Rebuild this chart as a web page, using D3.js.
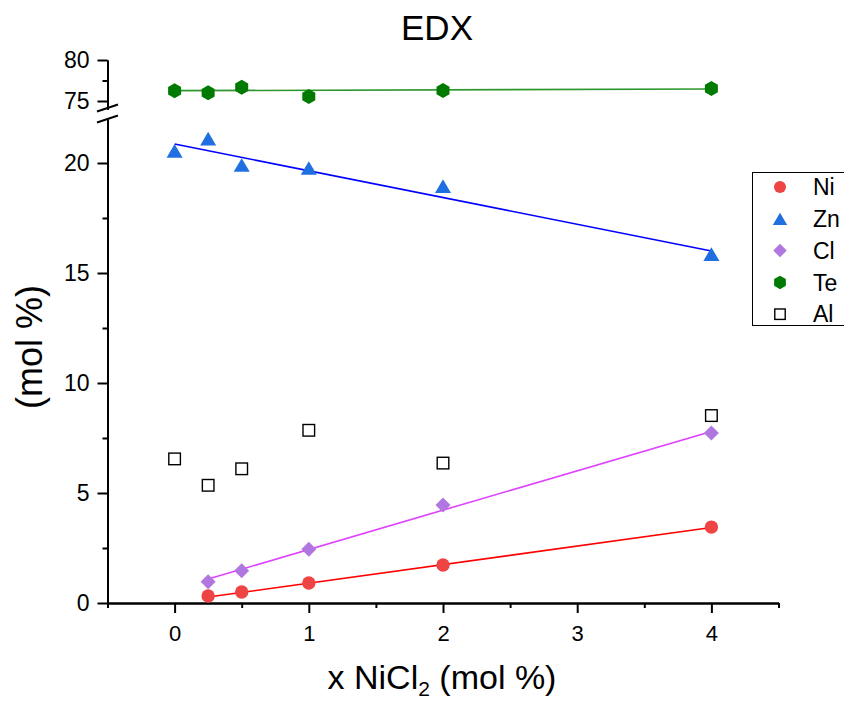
<!DOCTYPE html>
<html>
<head>
<meta charset="utf-8">
<script src="https://cdn.jsdelivr.net/npm/d3@7"></script>
<style>
  html, body { margin: 0; padding: 0; background: #fff; }
  svg { display: block; font-family: "Liberation Sans", Arial, sans-serif; }
</style>
</head>
<body>
<svg id="chart" width="844" height="702"></svg>
<script>
// ---- data ----
const niX = [0.25, 0.5, 1, 2, 4];
const niY = [0.32, 0.50, 0.91, 1.73, 3.45];
const znX = [0, 0.25, 0.5, 1, 2, 4];
const znY = [20.55, 21.11, 19.91, 19.77, 18.95, 15.86];
const clX = [0.25, 0.5, 1, 2, 4];
const clY = [0.97, 1.47, 2.44, 4.45, 7.73];
const teX = [0, 0.25, 0.5, 1, 2, 4];
const teY = [76.26, 76.01, 76.67, 75.55, 76.28, 76.52];
const alX = [0, 0.25, 0.5, 1, 2, 4];
const alY = [6.55, 5.35, 6.10, 7.85, 6.36, 8.52];
// linear-fit lines (endpoints)
const niFit = [[0.25, 0.27], [4, 3.43]];
const znFit = [[0, 20.86], [4, 16.0]];
const clFit = [[0.25, 1.09], [4, 7.80]];
const teFit = [[0, 76.26], [4, 76.46]];
const xTicks = [0, 1, 2, 3, 4];
const xMinor = [-0.5, 0.5, 1.5, 2.5, 3.5, 4.5];
const yBotTicks = [0, 5, 10, 15, 20];
const yBotMinor = [2.5, 7.5, 12.5, 17.5];
const yTopTicks = [75, 80];
const yTopMinor = [77.5];
const legendNames = ["Ni", "Zn", "Cl", "Te", "Al"];

// ---- styles ----
const colors = { Ni: "#ef4444", Zn: "#1f6fe0", Cl: "#b077e0", Te: "#007a00", Al: "#000" };
const lineColors = { Ni: "#ff0000", Zn: "#0000ff", Cl: "#e040ff", Te: "#2e962e" };

const svg = d3.select("#chart");
const x = d3.scaleLinear().domain([-0.5, 4.5]).range([107.5, 778.5]);
const yBot = d3.scaleLinear().domain([0, 22]).range([603, 119]);
const yTop = d3.scaleLinear().domain([74, 80]).range([109.2, 60]);
const yOf = v => v >= 50 ? yTop(v) : yBot(v);

// ---- axes ----
function styleAxis(g, fs) {
  g.selectAll("path.domain").attr("stroke", "#000").attr("stroke-width", 2);
  g.selectAll(".tick line").attr("stroke", "#000").attr("stroke-width", 2);
  g.selectAll("text").attr("font-size", fs).attr("fill", "#000")
    .attr("font-family", "'Liberation Sans', Arial, sans-serif");
}
const fmt = d3.format("d");
const axX = svg.append("g").attr("transform", "translate(0,603)")
  .call(d3.axisBottom(x).tickValues(xTicks).tickSize(10).tickSizeOuter(0).tickPadding(12).tickFormat(fmt));
styleAxis(axX, 22);
const axXm = svg.append("g").attr("transform", "translate(0,603)")
  .call(d3.axisBottom(x).tickValues(xMinor).tickSize(5).tickSizeOuter(0).tickFormat(""));
styleAxis(axXm, 22);

const axB = svg.append("g").attr("transform", "translate(107.5,0)")
  .call(d3.axisLeft(yBot).tickValues(yBotTicks).tickSize(10).tickSizeOuter(0).tickPadding(8).tickFormat(fmt));
styleAxis(axB, 23);
const axBm = svg.append("g").attr("transform", "translate(107.5,0)")
  .call(d3.axisLeft(yBot).tickValues(yBotMinor).tickSize(5).tickSizeOuter(0).tickFormat(""));
styleAxis(axBm, 23);
const axT = svg.append("g").attr("transform", "translate(107.5,0)")
  .call(d3.axisLeft(yTop).tickValues(yTopTicks).tickSize(10).tickSizeOuter(0).tickPadding(8).tickFormat(fmt));
styleAxis(axT, 23);
const axTm = svg.append("g").attr("transform", "translate(107.5,0)")
  .call(d3.axisLeft(yTop).tickValues(yTopMinor).tickSize(5).tickSizeOuter(0).tickFormat(""));
styleAxis(axTm, 23);

// axis break marks
const brk = svg.append("g").attr("stroke", "#000").attr("stroke-width", 2);
brk.append("line").attr("x1", 97).attr("y1", 111.5).attr("x2", 118).attr("y2", 104.5);
brk.append("line").attr("x1", 97).attr("y1", 122.5).attr("x2", 118).attr("y2", 115.5);

// ---- fit lines ----
const line = d3.line().x(d => x(d[0])).y(d => yOf(d[1]));
[["Te", teFit], ["Zn", znFit], ["Cl", clFit], ["Ni", niFit]].forEach(([k, pts]) => {
  svg.append("path").attr("d", line(pts)).attr("fill", "none")
    .attr("stroke", lineColors[k]).attr("stroke-width", 1.6);
});

// ---- markers ----
function marker(g, type, cx, cy, s) {
  if (type === "Ni") {
    g.append("circle").attr("cx", cx).attr("cy", cy).attr("r", 6.7 * s).attr("fill", colors.Ni);
  } else if (type === "Zn") {
    const w = 8 * s, h = 6.8 * s;
    g.append("path").attr("d", `M${cx},${cy - h}L${cx + w},${cy + h}L${cx - w},${cy + h}Z`).attr("fill", colors.Zn);
  } else if (type === "Cl") {
    const r = 7.5 * s;
    g.append("path").attr("d", `M${cx},${cy - r}L${cx + r},${cy}L${cx},${cy + r}L${cx - r},${cy}Z`).attr("fill", colors.Cl);
  } else if (type === "Te") {
    const r = 7.5 * s;
    const pts = d3.range(6).map(i => {
      const a = -Math.PI / 2 + i * Math.PI / 3;
      return [cx + r * Math.cos(a), cy + r * Math.sin(a)];
    });
    g.append("path").attr("d", "M" + pts.join("L") + "Z").attr("fill", colors.Te);
  } else {
    const h = 5.8 * s;
    g.append("rect").attr("x", cx - h).attr("y", cy - h).attr("width", 2 * h).attr("height", 2 * h)
      .attr("fill", "#fff").attr("stroke", "#000").attr("stroke-width", 1.4);
  }
}
const mk = svg.append("g");
alX.forEach((v, i) => marker(mk, "Al", x(v), yOf(alY[i]), 1));
teX.forEach((v, i) => marker(mk, "Te", x(v), yOf(teY[i]), 1));
znX.forEach((v, i) => marker(mk, "Zn", x(v), yOf(znY[i]), 1));
clX.forEach((v, i) => marker(mk, "Cl", x(v), yOf(clY[i]), 1));
niX.forEach((v, i) => marker(mk, "Ni", x(v), yOf(niY[i]), 1));

// ---- legend ----
const lg = svg.append("g");
lg.append("rect").attr("x", 752.5).attr("y", 172.5).attr("width", 120).attr("height", 153)
  .attr("fill", "#fff").attr("stroke", "#000").attr("stroke-width", 1);
legendNames.forEach((n, i) => {
  const cy = 187 + i * 31.8;
  marker(lg, n, 780, cy, 0.9);
  lg.append("text").attr("x", 813).attr("y", cy).attr("dy", "0.36em")
    .attr("font-size", 23).attr("fill", "#000").text(n);
});

// ---- titles ----
svg.append("text").attr("x", 437).attr("y", 40).attr("text-anchor", "middle")
  .attr("font-size", 35).attr("fill", "#000").text("EDX");

const xl = svg.append("text").attr("x", 442).attr("y", 689).attr("text-anchor", "middle")
  .attr("font-size", 34).attr("fill", "#000");
xl.append("tspan").text("x NiCl");
xl.append("tspan").attr("font-size", 21).attr("dy", 7).text("2");
xl.append("tspan").attr("dy", -7).text(" (mol %)");

svg.append("text").attr("transform", "translate(42,347) rotate(-90)").attr("text-anchor", "middle")
  .attr("font-size", 36).attr("fill", "#000").text("(mol %)");
</script>
</body>
</html>
